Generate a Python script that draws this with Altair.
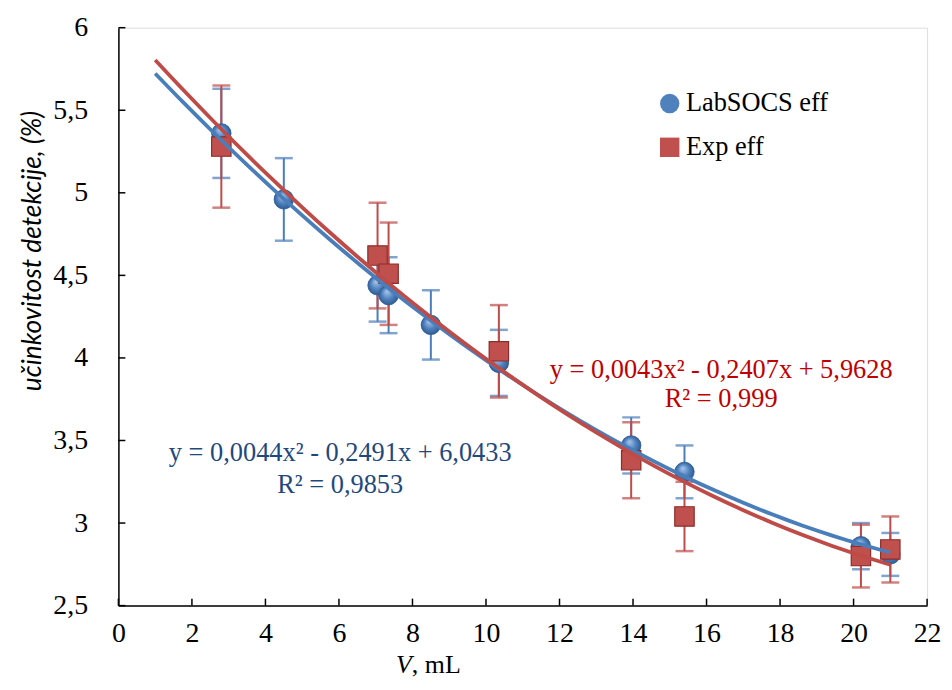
import altair as alt
import pandas as pd

# ---- data ----
series_names = ["LabSOCS eff", "Exp eff"]

lab_x = [2.8, 4.5, 7.05, 7.35, 8.5, 10.35, 13.95, 15.4, 20.2, 21.0]
lab_y = [5.36, 4.96, 4.44, 4.38, 4.20, 3.97, 3.47, 3.31, 2.86, 2.81]
lab_err = [0.27, 0.25, 0.22, 0.23, 0.21, 0.20, 0.17, 0.16, 0.14, 0.13]

exp_x = [2.8, 7.05, 7.35, 10.35, 13.95, 15.4, 20.2, 21.0]
exp_y = [5.28, 4.62, 4.51, 4.04, 3.38, 3.04, 2.80, 2.84]
exp_err = [0.37, 0.32, 0.31, 0.28, 0.23, 0.21, 0.19, 0.20]

x_ticks = [0, 2, 4, 6, 8, 10, 12, 14, 16, 18, 20, 22]
y_ticks = [2.5, 3.0, 3.5, 4.0, 4.5, 5.0, 5.5, 6.0]

eq_red = ["y = 0,0043x² - 0,2407x + 5,9628", "R² = 0,999"]
eq_blue = ["y = 0,0044x² - 0,2491x + 6,0433", "R² = 0,9853"]

BLUE = "#4F81BD"
RED = "#C0504D"
BLUE_LINE = "#4A7EBB"
RED_LINE = "#BE4B48"
SERIF = "Liberation Serif"

W, H = 813, 581

rows = []
for xv, yv, e in zip(lab_x, lab_y, lab_err):
    rows.append({"series": series_names[0], "x": xv, "y": yv, "err": e})
for xv, yv, e in zip(exp_x, exp_y, exp_err):
    rows.append({"series": series_names[1], "x": xv, "y": yv, "err": e})
df = pd.DataFrame(rows)

xscale = alt.Scale(domain=[0, 22], nice=False, zero=False)
yscale = alt.Scale(domain=[2.5, 6], nice=False, zero=False)
color_scale = alt.Scale(domain=series_names, range=[BLUE, RED])
shape_scale = alt.Scale(domain=series_names, range=["circle", "square"])

xaxis = alt.Axis(values=x_ticks, ticks=False, grid=False, labelFont=SERIF, labelFontSize=28,
                 labelColor="black", labelPadding=14, domainColor="black", domainWidth=1.5,
                 title=None, labelFlush=False, format="~g",
                 labelExpr="replace(datum.label, '.', ',')")
yaxis = alt.Axis(values=y_ticks, ticks=False, grid=False, labelFont=SERIF, labelFontSize=28,
                 labelColor="black", labelPadding=31, domainColor="black", domainWidth=1.5,
                 labelFlush=False, format=".1~f", labelExpr="replace(datum.label, '.', ',')",
                 title="učinkovitost detekcije, (%)", titleFont="Lato", titleFontSize=26.5,
                 titleFontStyle="italic", titleFontWeight="normal", titleColor="black",
                 titleX=-86, titleY=224, titleAngle=270, titleAlign="center", titleBaseline="middle")

base = alt.Chart(df)

axes_layer = base.mark_point(opacity=0).encode(
    x=alt.X("x:Q", scale=xscale, axis=xaxis),
    y=alt.Y("y:Q", scale=yscale, axis=yaxis),
)

# inward ticks
xt = alt.Chart(pd.DataFrame({"t": x_ticks})).mark_rule(color="black", strokeWidth=1.5).encode(
    x=alt.X("t:Q", scale=xscale), y=alt.value(H), y2=alt.value(H - 7))
yt = alt.Chart(pd.DataFrame({"t": y_ticks})).mark_rule(color="black", strokeWidth=1.5).encode(
    y=alt.Y("t:Q", scale=yscale), x=alt.value(0), x2=alt.value(7))

def errbars(name, col):
    d = base.transform_filter(alt.datum.series == name).transform_calculate(
        lo="datum.y - datum.err", hi="datum.y + datum.err")
    bar = d.mark_rule(color=col, strokeWidth=2).encode(
        x=alt.X("x:Q", scale=xscale), y=alt.Y("lo:Q", scale=yscale), y2="hi:Q")
    cap_lo = d.mark_tick(color=col, orient="horizontal", size=18, thickness=2.5).encode(
        x=alt.X("x:Q", scale=xscale), y=alt.Y("lo:Q", scale=yscale))
    cap_hi = d.mark_tick(color=col, orient="horizontal", size=18, thickness=2.5).encode(
        x=alt.X("x:Q", scale=xscale), y=alt.Y("hi:Q", scale=yscale))
    return bar + cap_lo + cap_hi

points = base.mark_point(filled=True, size=380, opacity=1, strokeWidth=1).encode(
    x=alt.X("x:Q", scale=xscale),
    y=alt.Y("y:Q", scale=yscale),
    color=alt.Color("series:N", scale=color_scale, sort=series_names,
                    legend=alt.Legend(title=None, orient="none", legendX=541, legendY=63,
                                      labelFont=SERIF, labelFontSize=26.5, labelColor="black",
                                      symbolSize=380, rowPadding=17, labelOffset=3,
                                      symbolStrokeWidth=0)),
    shape=alt.Shape("series:N", scale=shape_scale, sort=series_names, legend=None),
    order=alt.Order("order:Q"),
).transform_calculate(order="datum.series == 'LabSOCS eff' ? 0 : 1")

sphere = alt.Gradient(
    gradient="radial", x1=0.4, y1=0.3, r1=0.0, x2=0.5, y2=0.5, r2=0.55,
    stops=[alt.GradientStop(offset=0, color="#A9C8EC"),
           alt.GradientStop(offset=0.55, color="#4F81BD"),
           alt.GradientStop(offset=1, color="#2B568C")])

blue_overlay = base.transform_filter(alt.datum.series == series_names[0]).mark_point(
    filled=True, size=380, opacity=1, shape="circle", fill=sphere, stroke="#2F5E96", strokeWidth=0.8
).encode(x=alt.X("x:Q", scale=xscale), y=alt.Y("y:Q", scale=yscale))

red_overlay = base.transform_filter(alt.datum.series == series_names[1]).mark_point(
    filled=True, size=380, opacity=1, shape="square", fill=RED, stroke="#8C2F2C", strokeWidth=1.2
).encode(x=alt.X("x:Q", scale=xscale), y=alt.Y("y:Q", scale=yscale))

def trend(name, col):
    return base.transform_filter(alt.datum.series == name).transform_regression(
        "x", "y", method="poly", order=2, extent=[1, 21]
    ).mark_line(color=col, strokeWidth=3.8, interpolate="monotone").encode(
        x=alt.X("x:Q", scale=xscale), y=alt.Y("y:Q", scale=yscale))

def text_lines(lines, col, x, y0, dy):
    d = pd.DataFrame({"t": lines, "i": list(range(len(lines)))})
    return alt.Chart(d).transform_calculate(py=f"{y0} + datum.i * {dy}").mark_text(
        font=SERIF, fontSize=26.5, color=col, align="center", baseline="middle"
    ).encode(text="t:N", x=alt.value(x), y=alt.Y("py:Q", scale=None))

ann_red = text_lines(eq_red, "#C00000", 606, 344, 29)
ann_blue = text_lines(eq_blue, "#1F497D", 223, 428, 32)

xtitle_v = alt.Chart(pd.DataFrame({"t": ["V"]})).mark_text(
    font=SERIF, fontSize=26, fontStyle="italic", color="black", align="right", baseline="middle"
).encode(text="t:N", x=alt.value(295), y=alt.value(641))
xtitle_rest = alt.Chart(pd.DataFrame({"t": [", mL"]})).mark_text(
    font=SERIF, fontSize=26, color="black", align="left", baseline="middle"
).encode(text="t:N", x=alt.value(295), y=alt.value(641))

chart = alt.layer(
    axes_layer, xt, yt,
    errbars("LabSOCS eff", BLUE_LINE), errbars("Exp eff", RED_LINE),
    points, blue_overlay, red_overlay,
    trend("LabSOCS eff", BLUE_LINE), trend("Exp eff", RED_LINE),
    ann_red, ann_blue, xtitle_v, xtitle_rest,
).properties(
    width=W, height=H,
    autosize=alt.AutoSizeParams(type="none"),
    padding={"left": 111, "top": 18, "right": 17, "bottom": 75},
).configure_view(stroke="#D9D9D9", strokeWidth=1.5).configure(background="white")

chart.save("out.html", embed_options={"renderer": "svg", "actions": False})
